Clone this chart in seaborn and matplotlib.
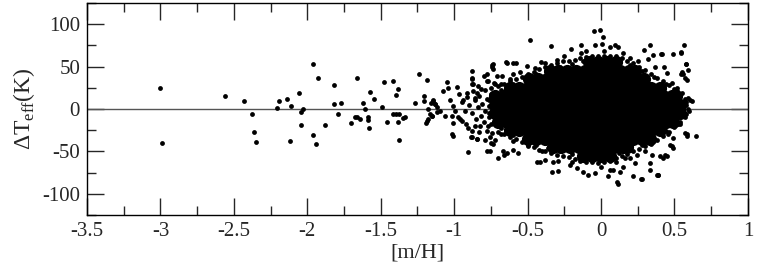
import pandas as pd
import numpy as np
import matplotlib
matplotlib.use('Agg')
import matplotlib.pyplot as plt
import seaborn as sns

# Pontos isolados e da borda da nuvem ([m/H], dTeff)
tail_x = [-3.0, -2.99, -2.56, -2.43, -2.38, -2.36, -2.35, -2.21, -2.19, -2.14, -2.11, -2.12,
          -2.06, -2.04, -2.03, -2.04, -1.96, -1.93, -1.96, -1.94, -1.88, -1.82, -1.82, -1.77,
          -1.79, -1.66, -1.70, -1.675, -1.66, -1.64, -1.62, -1.61, -1.57, -1.545, -1.59, -1.59,
          -1.58, -1.49, -1.475, -1.415, -1.38, -1.395, -1.455, -1.42, -1.395, -1.375, -1.38, -1.35,
          -1.334, -1.375, -1.266, -1.237, -1.184, -1.207, -1.207, -1.175, -1.157, -1.146, -1.128,
          -1.164, -1.148, -1.187, -1.193, -1.118, -1.096, -1.078, -1.05, -1.044, -1.062, -1.141,
          -1.13, -1.118, -1.152, -1.176, -1.028, -1.005, -0.982, -1.016, -1.005, -0.994, -0.971,
          -0.948, -0.926, -0.937, -0.914, -1.016, -1.01, -0.907, -0.88, -0.88, -0.87, -0.885,
          -0.846, -0.778, -0.74, -0.733, -0.70, -0.647, -0.66, -0.79, -0.75, -0.72, -0.88, -0.88,
          -0.846, -0.835, -0.903, -0.88, -0.824, -0.778, -0.755, -0.80, -0.778, -0.767, -0.744,
          -0.71, -0.733, -0.722, -0.70]
tail_y = [25, -40, 15, 9, -6, -27, -39, 1, 9, 12, 4, -38,
          19, -4, 0, -19, 53, 36, -31, -41, -19, 28, 6, 7,
          -6, 37, -16, -9, -10, -12, 7, 0, 20, 12, -10, -13,
          -22, 2, 32, 33, 23, 16, -15, -6, -6, -6, -15, -11,
          -10, -37, 7, 41, 34, 15, 9, 0, 7, 9, 6,
          -6, -8, -14, -16, 2, -2, 21, 32, 25, -8, 10,
          6, -4, -8, -12, 10, 4, 26, -8, -16, -2, -10,
          -14, -2, 10, 14, -29, -32, -51, 37, 29, 21, -33,
          -36, -50, 52, 47, -58, 55, -54, -37, -40, -37, 45, 35,
          19, 27, -22, -26, -20, -26, -50, 39, 41, 33, 49,
          39, 53, 29, 17]

# parte semi-densa à esquerda da nuvem
left_x = [-0.90, -0.88, -0.86, -0.85, -0.84, -0.83, -0.82, -0.81, -0.80, -0.79, -0.79, -0.78,
          -0.77, -0.76, -0.76, -0.75, -0.74, -0.74, -0.73, -0.73, -0.72, -0.86, -0.83, -0.95,
          -0.96, -0.92, -0.97]
left_y = [5, -5, 10, -12, 2, 15, -8, 6, -15, 22, -2, 12,
          -20, 4, -10, 25, -28, 8, -15, 18, -3, -20, -27, 8,
          -12, -18, 18]

# pontos soltos acima da nuvem
top_x = [-0.483, -0.342, -0.204, -0.136, -0.138, -0.04, -0.05, -0.007, 0.016, 0.005, 0.061, 0.095,
         0.118, 0.33, 0.295, 0.356, 0.406, 0.488, 0.543, 0.322, 0.368, 0.429, 0.577, 0.594,
         0.447, 0.543, 0.572, 0.587, 0.481, 0.52, 0.549, 0.594, 0.567, 0.545, 0.413, 0.576,
         0.549, 0.56, 0.606, 0.617, -0.64, -0.597, -0.58, -0.506, -0.408, -0.381, -0.676, -0.597,
         -0.87, -0.82, -0.78, -0.73, -0.914, -0.858, -0.25, -0.30, -0.10, 0.02, 0.15, 0.20,
         0.25, -0.45, -0.55, -0.62, -0.68]
top_y = [81, 74, 71, 76, 66, 75, 92, 93, 85, 77, 73, 76,
         73, 76, 69, 64, 65, 65, 66, 59, 49, 50, 53, 46,
         42, 41, 37, 34, 31, 21, 19, 13, 76, 67, 65, 53,
         43, 41, 11, 9, 54, 54, 54, 51, 55, 54, 39, 41,
         29, 23, 33, 31, 19, 13, 62, 58, 68, 68, 66, 60,
         56, 48, 44, 35, 30]

# pontos soltos abaixo da nuvem
bot_x = [0.538, 0.583, 0.645, 0.572, 0.49, 0.48, 0.436, 0.424, 0.40, 0.333, 0.33, 0.383,
         0.277, 0.587, 0.526, 0.504, 0.458, 0.47, 0.488, 0.447, 0.345, 0.39, 0.27, 0.22,
         0.163, 0.152, 0.129, 0.107, 0.084, 0.061, 0.23, 0.243, 0.114, 0.05, 0.386,
         -0.88, -0.846, -0.755, -0.733, -0.665, -0.642, -0.597, -0.563, -0.438, -0.415, -0.381,
         -0.325, -0.29, -0.336, -0.295, -0.211, -0.165, -0.12, -0.086, -0.041,
         -0.20, 0.0, 0.10, 0.20, 0.30, -0.40, -0.50, -0.60, -0.68,
         0.56, 0.58, 0.55, 0.60, 0.52, 0.50]
bot_y = [-18, -30, -32, -28, -34, -44, -54, -58, -56, -64, -72, -78,
         -83, -32, -18, -10, -30, -42, -46, -56, -54, -78, -83, -79,
         -58, -68, -74, -86, -72, -72, -64, -54, -88, -79, -78,
         -33, -36, -33, -41, -50, -52, -48, -52, -63, -62, -60,
         -62, -61, -74, -73, -66, -70, -74, -78, -76,
         -63, -68, -63, -58, -50, -50, -44, -38, -30,
         0, 5, -8, -3, 25, -20]

# contorno da parte preta (borda irregular da nuvem)
edge_x = [-0.70, -0.66, -0.62, -0.58, -0.54, -0.50, -0.46, -0.42, -0.38, -0.34, -0.30, -0.26,
          -0.22, -0.18, -0.14, -0.10, -0.06, -0.02, 0.02, 0.06, 0.10, 0.14, 0.18, 0.22,
          0.26, 0.30, 0.34, 0.38, 0.42, 0.46, 0.50, 0.54, 0.57,
          -0.68, -0.60, -0.52, -0.44, -0.36, -0.28, -0.20, -0.12, 0.00, 0.12, 0.20, 0.28,
          0.36, 0.44, 0.52,
          -0.70, -0.66, -0.62, -0.58, -0.54, -0.50, -0.46, -0.42, -0.38, -0.34, -0.30, -0.26,
          -0.22, -0.18, -0.14, -0.10, -0.06, -0.02, 0.02, 0.06, 0.10, 0.14, 0.18, 0.22,
          0.26, 0.30, 0.34, 0.38, 0.42, 0.46, 0.50, 0.54, 0.57,
          -0.68, -0.60, -0.52, -0.44, -0.36, -0.28, -0.20, -0.12, 0.00, 0.12, 0.20, 0.28,
          0.36, 0.44, 0.52,
          -0.76, -0.76, -0.75, -0.75, 0.58, 0.59, 0.58]
edge_y = [27, 30, 33, 35, 38, 41, 44, 47, 50, 52, 54, 56,
          57, 58, 60, 61, 62, 63, 63, 63, 62, 60, 57, 54,
          50, 46, 41, 37, 33, 28, 23, 17, 12,
          22, 30, 36, 41, 46, 50, 53, 56, 58, 56, 52, 45,
          38, 30, 20,
          -27, -30, -33, -36, -39, -42, -45, -48, -50, -52, -54, -56,
          -57, -59, -61, -62, -63, -64, -63, -61, -58, -55, -53, -50,
          -47, -44, -41, -37, -32, -27, -21, -15, -10,
          -22, -31, -37, -42, -46, -50, -53, -56, -58, -52, -48, -42,
          -35, -26, -16,
          10, -5, 18, -18, 8, 0, -6]

# miolo da nuvem (região totalmente preta), por linhas de dTeff
core_row_y = [55, 45, 35, 25, 15, 5, -5, -15, -25, -35, -45, -55]
core_row_x = [
    [-0.08, -0.02, 0.04, 0.10],
    [-0.35, -0.29, -0.23, -0.17, -0.11, -0.05, 0.01, 0.07, 0.13, 0.19, 0.23],
    [-0.49, -0.43, -0.37, -0.31, -0.25, -0.19, -0.13, -0.07, -0.01, 0.05, 0.11, 0.17, 0.23, 0.29],
    [-0.62, -0.56, -0.50, -0.44, -0.38, -0.32, -0.26, -0.20, -0.14, -0.08, -0.02, 0.04, 0.10,
     0.16, 0.22, 0.28, 0.34, 0.40],
    [-0.72, -0.66, -0.60, -0.54, -0.48, -0.42, -0.36, -0.30, -0.24, -0.18, -0.12, -0.06, 0.00,
     0.06, 0.12, 0.18, 0.24, 0.30, 0.36, 0.42, 0.48, 0.51],
    [-0.72, -0.66, -0.60, -0.54, -0.48, -0.42, -0.36, -0.30, -0.24, -0.18, -0.12, -0.06, 0.00,
     0.06, 0.12, 0.18, 0.24, 0.30, 0.36, 0.42, 0.48, 0.54],
    [-0.72, -0.66, -0.60, -0.54, -0.48, -0.42, -0.36, -0.30, -0.24, -0.18, -0.12, -0.06, 0.00,
     0.06, 0.12, 0.18, 0.24, 0.30, 0.36, 0.42, 0.48, 0.54],
    [-0.70, -0.64, -0.58, -0.52, -0.46, -0.40, -0.34, -0.28, -0.22, -0.16, -0.10, -0.04, 0.02,
     0.08, 0.14, 0.20, 0.26, 0.32, 0.38, 0.44, 0.49],
    [-0.62, -0.56, -0.50, -0.44, -0.38, -0.32, -0.26, -0.20, -0.14, -0.08, -0.02, 0.04, 0.10,
     0.16, 0.22, 0.28, 0.34, 0.40],
    [-0.50, -0.44, -0.38, -0.32, -0.26, -0.20, -0.14, -0.08, -0.02, 0.04, 0.10, 0.16, 0.22,
     0.28, 0.33],
    [-0.33, -0.27, -0.21, -0.15, -0.09, -0.03, 0.03, 0.09, 0.15, 0.18],
    [-0.12, -0.06, 0.00, 0.06],
]

xticks = [-3.5, -3, -2.5, -2, -1.5, -1, -0.5, 0, 0.5, 1]
xticklabels = ['-3.5', '-3', '-2.5', '-2', '-1.5', '-1', '-0.5', '0', '0.5', '1']
yticks = [-100, -50, 0, 50, 100]
yticklabels = ['-100', '-50', '0', '50', '100']

# Montando os dataframes
df_pts = pd.DataFrame({
    'mh': tail_x + left_x + top_x + bot_x + edge_x,
    'dteff': tail_y + left_y + top_y + bot_y + edge_y,
})
core_x = [x for row in core_row_x for x in row]
core_y = [y for y, row in zip(core_row_y, core_row_x) for _ in row]
df_core = pd.DataFrame({'mh': core_x, 'dteff': core_y})

sns.set_style('ticks')
plt.rcParams['font.family'] = ['Liberation Serif', 'DejaVu Serif']
plt.rcParams['mathtext.fontset'] = 'custom'
plt.rcParams['mathtext.rm'] = 'Liberation Serif'
plt.rcParams['axes.unicode_minus'] = False

fig = plt.figure(figsize=(7.57, 2.70), dpi=100)
ax = fig.add_axes([0.115, 0.204, 0.873, 0.785])

ax.axhline(0, color='#555555', lw=1.0, zorder=1)
sns.scatterplot(data=df_core, x='mh', y='dteff', color='black', s=90,
                linewidth=0, ax=ax, zorder=2)
sns.scatterplot(data=df_pts, x='mh', y='dteff', color='black', s=12,
                linewidth=0, ax=ax, zorder=3)

ax.set_xlim(-3.5, 1)
ax.set_ylim(-125, 125)
ax.set_xticks(xticks)
ax.set_xticklabels(xticklabels)
ax.set_yticks(yticks)
ax.set_yticklabels(yticklabels)
ax.xaxis.set_minor_locator(matplotlib.ticker.MultipleLocator(0.25))
ax.yaxis.set_minor_locator(matplotlib.ticker.MultipleLocator(25))
ax.tick_params(which='both', direction='in', top=True, right=True, labelsize=15, pad=5, width=1)
ax.tick_params(which='major', length=12)
ax.tick_params(which='minor', length=6.5)
for sp in ax.spines.values():
    sp.set_linewidth(1)
    sp.set_color('black')

ax.set_xlabel('[m/H]', fontsize=16, labelpad=2)
ax.set_ylabel(r'$\Delta$T$_{\mathregular{eff}}$(K)', fontsize=17, labelpad=4)

plt.savefig('out.png', dpi=100)
